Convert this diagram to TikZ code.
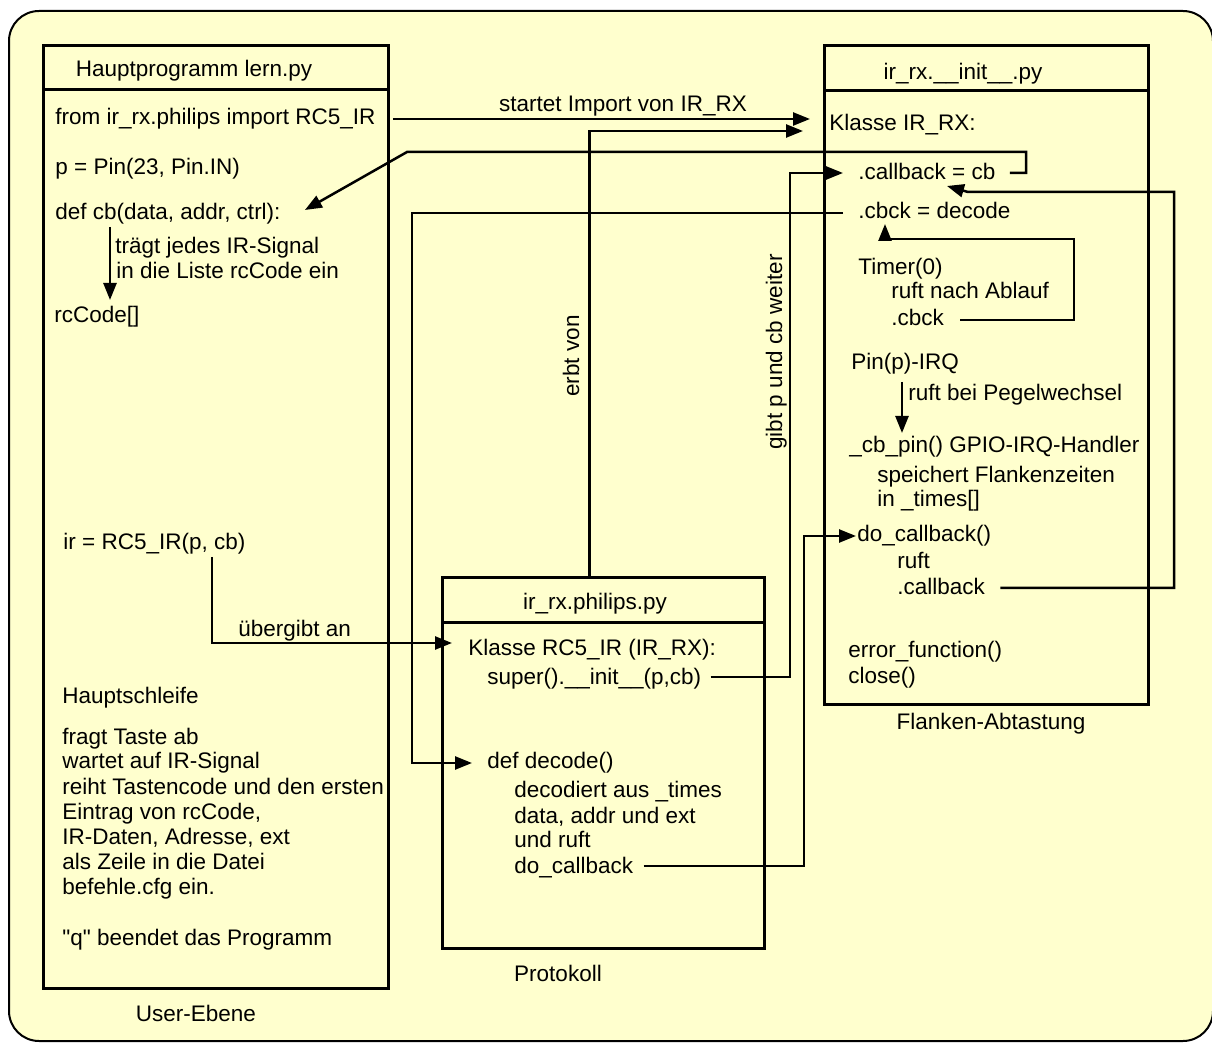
\documentclass[tikz,border=0pt]{standalone}
\usepackage{fontspec}
\setmainfont{Liberation Sans}[Ligatures=TeXOff]
\usetikzlibrary{arrows.meta}
\definecolor{bgyellow}{RGB}{255,255,206}
\begin{document}
\begin{tikzpicture}[x=0.5pt,y=-0.5pt,
  font=\fontsize{11.25pt}{12.5pt}\selectfont,
  txt/.style={anchor=base west, inner sep=0pt},
  ctr/.style={anchor=base, inner sep=0pt},
  boxnode/.style={draw, line width=1.5pt, inner sep=0pt, anchor=north west},
  sepline/.style={line width=1.5pt},
  conn/.style={line width=1.25pt},
  arr/.style={conn, -{Triangle[length=8.5pt,width=6.5pt]}},
  outerframe/.style={draw, line width=1pt, fill=bgyellow, rounded corners=15pt}]

\fill[white] (0,0) rectangle (1212,1043);
\useasboundingbox (0,0) rectangle (1212,1043);
\path[outerframe] (9,11) rectangle (1213,1041);

% ---------- boxes ----------
\node[boxnode, minimum width=172.5pt, minimum height=471.5pt] (b1) at (42,44) {};
\draw[sepline] (42,90) -- (387,90);
\node[boxnode, minimum width=161pt, minimum height=185.5pt] (b2) at (441,576) {};
\draw[sepline] (441,623) -- (763,623);
\node[boxnode, minimum width=162pt, minimum height=329.5pt] (b3) at (823,44) {};
\draw[sepline] (823,91) -- (1147,91);

% ---------- box 1 texts ----------
\node[ctr] (t1) at (194,77) {Hauptprogramm lern.py};
\node[txt] (imp) at (55,125) {from ir\_rx.philips import RC5\_IR};
\node[txt] (pin) at (55,175) {p = Pin(23, Pin.IN)};
\node[txt] (defcb) at (55,220) {def cb(data, addr, ctrl):};
\node[txt] (tr1) at (115,254) {trägt jedes IR-Signal};
\node[txt] (tr2) at (116,279) {in die Liste rcCode ein};
\node[txt] (rc) at (54,323) {rcCode[]};
\node[txt] (ir) at (63,550) {ir = RC5\_IR(p, cb)};
\node[txt] (hs) at (62,704) {Hauptschleife};
\node[txt] (l1) at (62,744) {fragt Taste ab};
\node[txt] (l2) at (62,769) {wartet auf IR-Signal};
\node[txt] (l3) at (62,794) {reiht Tastencode und den ersten};
\node[txt] (l4) at (62,819) {Eintrag von rcCode,};
\node[txt] (l5) at (62,844) {IR-Daten, Adresse, ext};
\node[txt] (l6) at (62,869) {als Zeile in die Datei};
\node[txt] (l7) at (62,894) {befehle.cfg ein.};
\node[txt] (lq) at (62,945) {"q" beendet das Programm};
\node[ctr] (ue) at (196,1021) {User-Ebene};

% ---------- box 2 texts ----------
\node[ctr] (t2) at (595,610) {ir\_rx.philips.py};
\node[txt] (k2) at (468,655) {Klasse RC5\_IR (IR\_RX):};
\node[txt] (sup) at (487,684) {super().\_\_init\_\_(p,cb)};
\node[txt] (dec) at (487,768) {def decode()};
\node[txt] (d1) at (514,797) {decodiert aus \_times};
\node[txt] (d2) at (514,823) {data, addr und ext};
\node[txt] (d3) at (514,847) {und ruft};
\node[txt] (docb) at (514,873) {do\_callback};
\node[ctr] (prot) at (558,981) {Protokoll};

% ---------- box 3 texts ----------
\node[ctr] (t3) at (963,80) {ir\_rx.\_\_init\_\_.py};
\node[txt] (k3) at (829,131) {Klasse IR\_RX:};
\node[txt] (cbas) at (858,180) {.callback = cb};
\node[txt] (cbck) at (858,219) {.cbck = decode};
\node[txt] (tim) at (858,275) {Timer(0)};
\node[txt] (rna) at (891,299) {ruft nach Ablauf};
\node[txt] (cbckb) at (891,326) {.cbck};
\node[txt] (pirq) at (851,370) {Pin(p)-IRQ};
\node[txt] (rbp) at (908,401) {ruft bei Pegelwechsel};
\node[txt] (cbpin) at (849,453) {\_cb\_pin() GPIO-IRQ-Handler};
\node[txt] (sf) at (877,483) {speichert Flankenzeiten};
\node[txt] (it) at (877,507) {in \_times[]};
\node[txt] (docc) at (857,542) {do\_callback()};
\node[txt] (ruft) at (897,568) {ruft};
\node[txt] (callb) at (897,595) {.callback};
\node[txt] (errf) at (848,658) {error\_function()};
\node[txt] (clo) at (848,683) {close()};
\node[ctr] (fa) at (991,729) {Flanken-Abtastung};

% ---------- connector labels ----------
\node[ctr] (lbimp) at (623,112) {startet Import von IR\_RX};
\node[txt] (lbueb) at (238,637) {übergibt an};
\node[ctr, rotate=90] (lberb) at (579,356) {erbt von};
\node[ctr, rotate=90] (lbgib) at (782,352) {gibt p und cb weiter};

% ---------- connectors ----------
% import
\draw[arr] ([shift={(17,-6)}]imp.base east) -- ([shift={(-19,-12)}]k3.base west);
% erbt von
\draw[arr] ([shift={(-14,0)}]b2.north) |- ([shift={(-26,0)}]k3.base west);
% callback = cb  -> def cb
\draw[arr] ([shift={(14,-7)}]cbas.base east) -| (1026,152) -- (407,152) -- ([shift={(24,-10)}]defcb.base east);
% gibt p und cb weiter
\draw[arr] ([shift={(9,-7)}]sup.base east) -| (790,400) |- ([shift={(-15,-7)}]cbas.base west);
% cbck = decode -> def decode
\draw[arr] ([shift={(-15,-6)}]cbck.base west) -| (412,500) |- ([shift={(-15,-5)}]dec.base west);
% Timer loop
\draw[arr] ([shift={(16,-6)}]cbckb.base east) -| (1074,280) |- ([shift={(27,20)}]cbck.base west) -- ([shift={(27,5)}]cbck.base west);
% .callback loop
\draw[arr] ([shift={(15,-7)}]callb.base east) -| (1174,400) |- ([shift={(110,12)}]cbas.base west) -- ([shift={(89,6)}]cbas.base west);
% do_callback
\draw[arr] ([shift={(10,-7)}]docb.base east) -| (804,700) |- ([shift={(-1,-6)}]docc.base west);
% uebergibt an
\draw[arr] ([shift={(149,7)}]ir.base west) |- ([shift={(-16,-12)}]k2.base west);
% traegt
\draw[arr] ([shift={(55,7)}]defcb.base west) -- ([shift={(56,-23)}]rc.base west);
% Pin IRQ
\draw[arr] ([shift={(51,12)}]pirq.base west) -- ([shift={(53,-20)}]cbpin.base west);

\end{tikzpicture}
\end{document}
